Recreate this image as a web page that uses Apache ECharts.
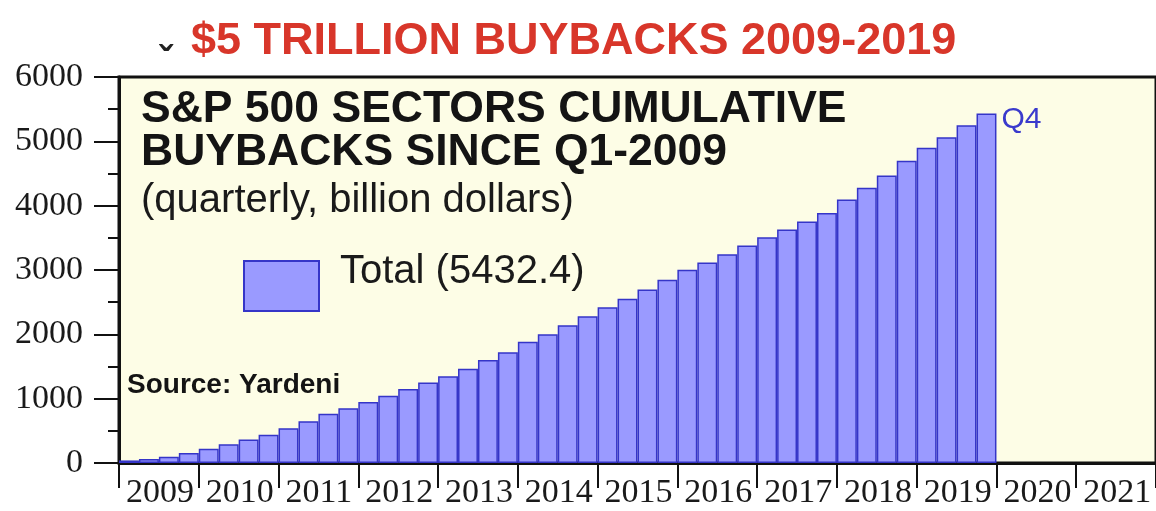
<!DOCTYPE html>
<html>
<head>
<meta charset="utf-8">
<script src="https://cdn.jsdelivr.net/npm/echarts@6/dist/echarts.min.js"></script>
<style>
html,body{margin:0;padding:0;background:#fff;}
#chart{width:1156px;height:511px;}
</style>
</head>
<body>
<div id="chart"></div>
<script>
// ---- data ----
const years = ['2009','2010','2011','2012','2013','2014','2015','2016','2017','2018','2019','2020','2021'];
const quarterNames = ['Q1','Q2','Q3','Q4'];
// cumulative buybacks since Q1-2009, billion dollars (Q1-2009 .. Q4-2019)
const cumulative = [
  40, 62, 98, 155,
  222, 290, 365, 440,
  540, 650, 765, 850,
  950, 1045, 1150, 1250,
  1350, 1465, 1600, 1720,
  1885, 2000, 2140, 2280,
  2420, 2555, 2695, 2850,
  3005, 3115, 3245, 3380,
  3510, 3630, 3755, 3885,
  4095, 4280, 4470, 4700,
  4900, 5065, 5250, 5432.4
];
const yTicks = [0, 1000, 2000, 3000, 4000, 5000, 6000];
const seriesName = 'Total (5432.4)';
const lastLabel = 'Q4';

// ---- build ----
const categories = [];
years.forEach(y => quarterNames.forEach(q => categories.push(y + ' ' + q)));
const barData = cumulative.map((v, i) => {
  if (i === cumulative.length - 1) {
    return {
      value: v,
      label: {
        show: true, formatter: lastLabel, position: [25, -9],
        color: '#3a3acc', fontSize: 30, fontFamily: 'Liberation Sans'
      }
    };
  }
  return v;
});

const chart = echarts.init(document.getElementById('chart'), null, {renderer: 'canvas'});
const option = {
  backgroundColor: '#ffffff',
  animation: false,
  grid: {
    left: 119, top: 77, width: 1040, height: 386,
    show: true, backgroundColor: '#fdfde6', borderColor: '#111', borderWidth: 3
  },
  legend: {
    data: [seriesName],
    left: 238, top: 255,
    itemWidth: 75, itemHeight: 50,
    icon: 'rect',
    formatter: () => '',
    textStyle: {fontSize: 40, fontFamily: 'Liberation Sans', color: '#1a1a1a'}
  },
  xAxis: {
    type: 'category',
    data: categories,
    boundaryGap: true,
    axisLine: {show: true, lineStyle: {color: '#111', width: 3}},
    axisTick: {show: true, interval: (i) => i % 4 === 0, length: 25, lineStyle: {color: '#111', width: 2}},
    axisLabel: {
      interval: (i) => i % 4 === 0,
      formatter: (v) => v.slice(0, 4),
      align: 'left', margin: 13,
      fontFamily: 'Liberation Serif', fontSize: 34, color: '#1a1a1a',
      padding: [0, 0, 0, -3]
    },
    splitLine: {show: false}
  },
  yAxis: {
    type: 'value',
    min: yTicks[0], max: yTicks[yTicks.length - 1], interval: 1000,
    axisLine: {show: true, lineStyle: {color: '#111', width: 3}},
    axisTick: {show: true, length: 25, lineStyle: {color: '#111', width: 2}},
    minorTick: {show: true, splitNumber: 2, length: 11, lineStyle: {color: '#111', width: 2}},
    splitLine: {show: false},
    axisLabel: {margin: 36, fontFamily: 'Liberation Serif', fontSize: 34, color: '#1a1a1a', formatter: (v) => String(v)}
  },
  series: [{
    name: seriesName,
    type: 'bar',
    data: barData,
    barCategoryGap: '0%',
    itemStyle: {color: '#9a9aff', borderColor: '#3535c8', borderWidth: 1.5}
  }],
  graphic: [
    {type: 'text', left: 191, top: 19, style: {text: '$5 TRILLION BUYBACKS 2009-2019', fill: '#d8362a', font: 'bold 45px "Liberation Sans"'}},
    {type: 'text', left: 159, top: 44, style: {text: 'ˇ', fill: '#222', font: 'bold 40px "Liberation Sans"'}},
    {type: 'text', x: 141, y: 110, style: {text: 'S&P 500 SECTORS CUMULATIVE', fill: '#141414', font: 'bold 44.5px "Liberation Sans"', verticalAlign: 'middle'}},
    {type: 'text', x: 141, y: 153, style: {text: 'BUYBACKS SINCE Q1-2009', fill: '#141414', font: 'bold 44.5px "Liberation Sans"', verticalAlign: 'middle'}},
    {type: 'text', x: 141, y: 201, style: {text: '(quarterly, billion dollars)', fill: '#1a1a1a', font: '40px "Liberation Sans"', verticalAlign: 'middle'}},
    {type: 'text', x: 340, y: 272, style: {text: seriesName, fill: '#1a1a1a', font: '40px "Liberation Sans"', verticalAlign: 'middle'}},
    {type: 'text', x: 127, y: 385, style: {text: 'Source: Yardeni', fill: '#141414', font: 'bold 28px "Liberation Sans"', verticalAlign: 'middle'}}
  ]
};
chart.setOption(option);
</script>
</body>
</html>
